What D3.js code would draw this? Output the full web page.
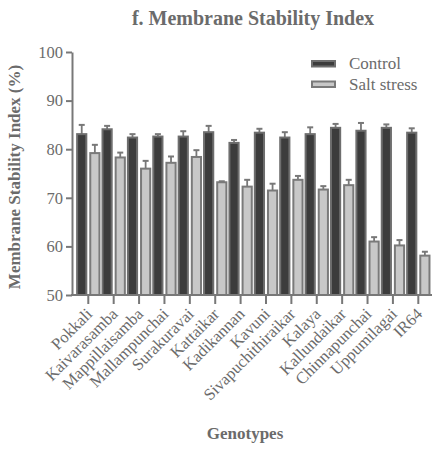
<!DOCTYPE html>
<html>
<head>
<meta charset="utf-8">
<script src="https://cdn.jsdelivr.net/npm/d3@7"></script>
<style>
  html, body { margin: 0; padding: 0; background: #fff; }
  svg { display: block; }
  svg text { font-family: "Liberation Serif", "Times New Roman", serif; fill: #6b6b6b; }
</style>
</head>
<body>
<svg id="chart" width="433" height="449"></svg>
<script>
// Genotypes along the x axis
const genotypes = ["Pokkali", "Kaivarasamba", "Mappillaisamba", "Mallampunchai", "Surakuravai",
  "Kattaikar", "Kadikannan", "Kavuni", "Sivapuchithiraikar", "Kalaya", "Kallundaikar",
  "Chinnapunchai", "Uppumilagai", "IR64"];

// Membrane stability index (%), mean and standard error per treatment
const controlMean = [83.1, 84.1, 82.4, 82.6, 82.6, 83.5, 81.3, 83.4, 82.4, 83.1, 84.4, 83.8, 84.4, 83.4];
const controlSE   = [1.9, 0.7, 0.7, 0.5, 1.1, 1.3, 0.6, 0.8, 1.1, 1.4, 0.8, 1.6, 0.7, 0.9];
const saltMean    = [79.2, 78.3, 76.0, 77.2, 78.4, 73.2, 72.3, 71.5, 73.7, 71.7, 72.6, 61.0, 60.2, 58.1];
const saltSE      = [1.7, 1.0, 1.6, 1.3, 1.4, 0.2, 1.4, 1.4, 0.8, 0.7, 1.1, 0.9, 1.1, 0.8];

const seriesNames = ["Control", "Salt stress"];
const yTicks = [50, 60, 70, 80, 90, 100];

const serif = "'Liberation Serif', 'Times New Roman', serif";
const svg = d3.select("#chart");
const axisColor = "#787878";

const x = d3.scaleBand().domain(genotypes).range([75.6, 431]).paddingInner(0.12).paddingOuter(0.06);
const xSub = d3.scaleBand().domain(seriesNames).range([0, x.bandwidth()]).paddingInner(0.3);
const y = d3.scaleLinear().domain([50, 100]).range([295, 52]);

const styles = {
  "Control": { fill: "#3c3c3c", stroke: "#6e6e6e" },
  "Salt stress": { fill: "#c8c8c8", stroke: "#7a7a7a" }
};

const rows = genotypes.map((g, i) => ({
  genotype: g,
  values: [
    { series: "Control", mean: controlMean[i], se: controlSE[i] },
    { series: "Salt stress", mean: saltMean[i], se: saltSE[i] }
  ]
}));

// Bars with upward error bars
const groups = svg.append("g").selectAll("g").data(rows).join("g")
  .attr("transform", d => `translate(${x(d.genotype)},0)`);

const item = groups.selectAll("g").data(d => d.values).join("g");

item.append("line")
  .attr("x1", d => xSub(d.series) + xSub.bandwidth() / 2)
  .attr("x2", d => xSub(d.series) + xSub.bandwidth() / 2)
  .attr("y1", d => y(d.mean))
  .attr("y2", d => y(d.mean + d.se))
  .attr("stroke", axisColor).attr("stroke-width", 1.8);

item.append("line")
  .attr("x1", d => xSub(d.series) + xSub.bandwidth() / 2 - 3)
  .attr("x2", d => xSub(d.series) + xSub.bandwidth() / 2 + 3)
  .attr("y1", d => y(d.mean + d.se))
  .attr("y2", d => y(d.mean + d.se))
  .attr("stroke", axisColor).attr("stroke-width", 2);

item.append("rect")
  .attr("x", d => xSub(d.series))
  .attr("width", xSub.bandwidth())
  .attr("y", d => y(d.mean))
  .attr("height", d => y(50) - y(d.mean))
  .attr("fill", d => styles[d.series].fill)
  .attr("stroke", d => styles[d.series].stroke)
  .attr("stroke-width", 2);

// Y axis
const yAxis = svg.append("g").attr("transform", "translate(72,0)")
  .call(d3.axisLeft(y).tickValues(yTicks).tickSize(6).tickSizeOuter(0).tickPadding(3));
yAxis.attr("font-family", null);
yAxis.select(".domain").attr("stroke", axisColor).attr("stroke-width", 2);
yAxis.selectAll(".tick line").attr("stroke", axisColor).attr("stroke-width", 2);
yAxis.selectAll(".tick text").style("font-size", "16.5px").style("fill", "#6b6b6b")
  .style("font-family", serif);

// X axis
const xAxis = svg.append("g").attr("transform", "translate(0,295)")
  .call(d3.axisBottom(x).tickSize(9).tickSizeOuter(0));
xAxis.attr("font-family", null);
xAxis.select(".domain").remove();
xAxis.append("line").attr("x1", 71).attr("x2", 432).attr("y1", 0).attr("y2", 0)
  .attr("stroke", axisColor).attr("stroke-width", 2);
xAxis.selectAll(".tick line").attr("stroke", axisColor).attr("stroke-width", 2);
xAxis.selectAll(".tick text")
  .style("font-size", "16.5px").style("fill", "#6b6b6b").style("font-family", serif)
  .attr("text-anchor", "end")
  .attr("y", 0)
  .attr("dy", 0)
  .attr("transform", "translate(5,20) rotate(-45)");

// Title
svg.append("text").attr("x", 253).attr("y", 25).attr("text-anchor", "middle")
  .style("font-size", "20px").style("font-weight", "bold")
  .text("f. Membrane Stability Index");

// Axis titles
svg.append("text").attr("transform", "translate(20,177) rotate(-90)")
  .attr("text-anchor", "middle").style("font-size", "17px").style("font-weight", "bold")
  .text("Membrane Stability Index (%)");

svg.append("text").attr("x", 245).attr("y", 439).attr("text-anchor", "middle")
  .style("font-size", "17px").style("font-weight", "bold")
  .text("Genotypes");

// Legend
const legend = svg.append("g").attr("transform", "translate(311,60)");
const li = legend.selectAll("g").data(seriesNames).join("g")
  .attr("transform", (d, i) => `translate(0,${i * 20.5})`);
li.append("rect").attr("x", 1).attr("y", 1).attr("width", 23).attr("height", 5.5)
  .attr("fill", d => styles[d].fill).attr("stroke", d => styles[d].stroke).attr("stroke-width", 2);
li.append("text").attr("x", 38).attr("y", 9).style("font-size", "17px").text(d => d);
</script>
</body>
</html>
